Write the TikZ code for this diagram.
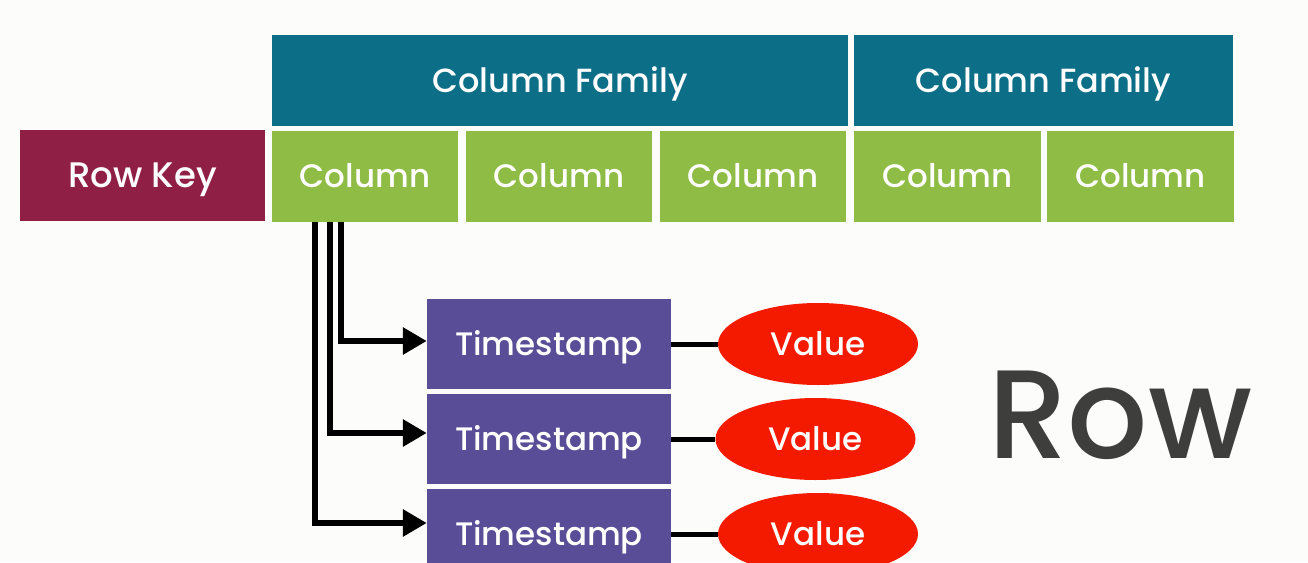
\documentclass[tikz,border=0pt]{standalone}
\usepackage{fontspec}
\IfFontExistsTF{Poppins Medium}{\setmainfont{Poppins Medium}}{\setmainfont{Poppins}[FakeBold=0.6]}
\usetikzlibrary{arrows.meta,shapes.geometric}
\definecolor{bgc}{HTML}{FCFCFA}
\definecolor{teal}{HTML}{0C6E87}
\definecolor{grn}{HTML}{8FBC45}
\definecolor{maroon}{HTML}{901F46}
\definecolor{purp}{HTML}{584D96}
\definecolor{redv}{HTML}{F31A00}
\definecolor{rowc}{HTML}{3E3E3C}
\tikzset{
  fs/.style={font=\fontsize{#1}{#1}\selectfont,text height=0.7*#1 pt,text depth=0pt},
  box/.style={rectangle,inner sep=0pt,text=white,fs=32.5},
  famb/.style={box,fill=teal,minimum height=91pt,fs=33.5},
  colb/.style={box,fill=grn,minimum height=91pt},
  keyb/.style={box,fill=maroon,minimum height=91pt,minimum width=245pt,fs=35.5},
  tsb/.style={box,fill=purp,minimum height=90pt,minimum width=244pt},
  valb/.style={ellipse,inner sep=0pt,fill=redv,text=white,minimum width=200pt,minimum height=82pt,fs=32.5},
  arr/.style={line width=6pt,black,line join=miter,-{Triangle[length=24pt,width=26pt]}},
  lnk/.style={line width=5pt,black}
}
\begin{document}
\begin{tikzpicture}[x=1pt,y=-1pt]
\fill[bgc] (0,0) rectangle (1308,562);
\useasboundingbox (0,0) rectangle (1308,562);
\clip (0,0) rectangle (1308,562);
\node[keyb] (rk) at (142.5,175.5) {Row Key};
\node[famb,minimum width=576pt] (cf1) at (560,80.5) {Column Family};
\node[famb,minimum width=379pt] (cf2) at (1043.5,80.5) {Column Family};
\node[colb,minimum width=186pt] (c1) at (365,176.5) {Column};
\node[colb,minimum width=186pt] (c2) at (559,176.5) {Column};
\node[colb,minimum width=186pt] (c3) at (753,176.5) {Column};
\node[colb,minimum width=187pt] (c4) at (947.5,176.5) {Column};
\node[colb,minimum width=187pt] (c5) at (1140.5,176.5) {Column};
\node[tsb] (ts1) at (549,344) {Timestamp};
\node[tsb] (ts2) at (549,439) {Timestamp};
\node[tsb] (ts3) at (549,534) {Timestamp};
\node[valb] (v1) at (818,344) {Value};
\node[valb] (v2) at (815.5,439) {Value};
\node[valb] (v3) at (818,534) {Value};
\node[anchor=base west,inner sep=0pt,text=rowc,font=\fontsize{126}{126}\selectfont] (row) at (988,458) {Row};
\draw[arr] ([xshift=69pt]c1.south west) |- ([yshift=3pt]ts1.west);
\draw[arr] ([xshift=58pt]c1.south west) |- ([yshift=6pt]ts2.west);
\draw[arr] ([xshift=43pt]c1.south west) |- ([yshift=11pt]ts3.west);
\draw[lnk] (ts1.east) -- (v1.west);
\draw[lnk] (ts2.east) -- (v2.west);
\draw[lnk] (ts3.east) -- (v3.west);
\end{tikzpicture}
\end{document}
